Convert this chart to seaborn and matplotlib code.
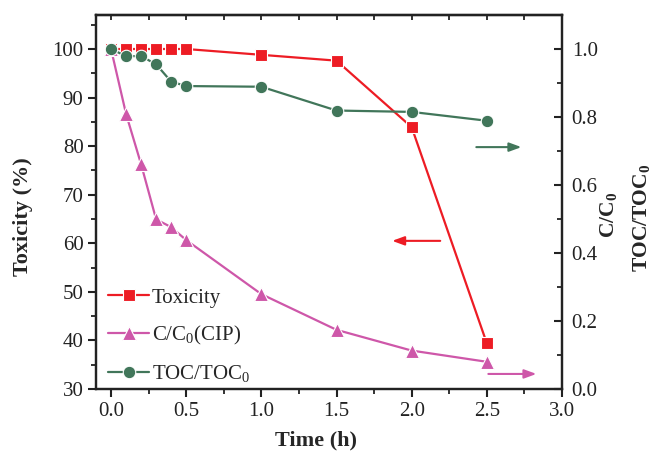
import matplotlib
matplotlib.use("Agg")
import matplotlib.pyplot as plt
from matplotlib.ticker import MultipleLocator
from matplotlib.lines import Line2D
import seaborn as sns
import pandas as pd

time_h = [0.0, 0.1, 0.2, 0.3, 0.4, 0.5, 1.0, 1.5, 2.0, 2.5]
toxicity = [100.0, 100.0, 100.0, 100.0, 100.0, 100.0, 98.8, 97.6, 83.9, 39.4]
c_c0 = [1.0, 0.809, 0.661, 0.499, 0.476, 0.438, 0.279, 0.174, 0.113, 0.080]
toc_toc0 = [1.0, 0.979, 0.979, 0.955, 0.904, 0.891, 0.889, 0.819, 0.815, 0.789]

labels = ["Toxicity", "C/C$_0$(CIP)", "TOC/TOC$_0$"]
colors = ["#ED1C24", "#CE57A9", "#41765A"]
markers = ["s", "^", "o"]

df = pd.DataFrame({"time": time_h, "tox": toxicity, "c": c_c0, "toc": toc_toc0})

sns.set_theme(style="ticks")
plt.rcParams["font.family"] = ["Liberation Serif", "DejaVu Serif"]
plt.rcParams["mathtext.fontset"] = "custom"
plt.rcParams["mathtext.rm"] = "Liberation Serif"
plt.rcParams["mathtext.bf"] = "Liberation Serif:bold"

fig = plt.figure(figsize=(6.57, 4.51), dpi=100)
ax = fig.add_axes([96 / 657, 1 - 389 / 451, (562 - 96) / 657, (389 - 15) / 451])
ax2 = ax.twinx()

mk = dict(markeredgecolor="white", markeredgewidth=0.8, linewidth=1.6)
sns.lineplot(data=df, x="time", y="tox", ax=ax, color=colors[0], marker="s",
             markersize=8, legend=False, **mk)
sns.lineplot(data=df, x="time", y="c", ax=ax2, color=colors[1], marker="^",
             markersize=9.5, legend=False, **mk)
sns.lineplot(data=df, x="time", y="toc", ax=ax2, color=colors[2], marker="o",
             markersize=9, legend=False, **mk)

ax.set_xlim(-0.1, 3.0)
ax.set_ylim(30, 107)
ax2.set_ylim(0, 1.1)

ax.xaxis.set_major_locator(MultipleLocator(0.5))
ax.xaxis.set_minor_locator(MultipleLocator(0.25))
ax.yaxis.set_major_locator(MultipleLocator(10))
ax.yaxis.set_minor_locator(MultipleLocator(5))
ax2.yaxis.set_major_locator(MultipleLocator(0.2))
ax2.yaxis.set_minor_locator(MultipleLocator(0.1))
ax.set_xticks([0.0, 0.5, 1.0, 1.5, 2.0, 2.5, 3.0])
ax.set_xticklabels(["0.0", "0.5", "1.0", "1.5", "2.0", "2.5", "3.0"])
ax.set_yticks([30, 40, 50, 60, 70, 80, 90, 100])
ax2.set_yticks([0.0, 0.2, 0.4, 0.6, 0.8, 1.0])
ax2.set_yticklabels(["0.0", "0.2", "0.4", "0.6", "0.8", "1.0"])

for a, d, p in ((ax, "out", 3), (ax2, "in", 7)):
    for s in a.spines.values():
        s.set_linewidth(1.6)
        s.set_color("#222222")
    a.tick_params(which="major", length=6, width=1.5, direction=d,
                  labelsize=15, colors="#222222", pad=p)
    a.tick_params(which="minor", length=3.5, width=1.3, direction=d,
                  colors="#222222")
    a.grid(False)

sec = ax.secondary_xaxis("top")
sec.xaxis.set_major_locator(MultipleLocator(0.5))
sec.xaxis.set_minor_locator(MultipleLocator(0.25))
sec.tick_params(which="both", direction="in", length=3.5, width=1.3,
                labeltop=False, colors="#222222")
sec.spines["top"].set_linewidth(1.6)

ax.set_xlabel("Time (h)", fontsize=16, fontweight="bold")
ax.set_ylabel("Toxicity (%)", fontsize=16, fontweight="bold")
ax.xaxis.set_label_coords((316 - 96) / 466, -(430 - 389) / 374)
ax.yaxis.set_label_coords(-(96 - 33) / 466, (389 - 217) / 374)
ax2.set_ylabel("")

fig.text(609 / 657, 1 - 238 / 451, r"C/C$_\mathbf{0}$", rotation=90,
         fontsize=15.5, fontweight="bold", ha="center", va="bottom")
fig.text(642 / 657, 1 - 272 / 451, r"TOC/TOC$_\mathbf{0}$", rotation=90,
         fontsize=15.5, fontweight="bold", ha="center", va="bottom")

arrow_specs = [
    ((2.43, 79.8), (2.73, 79.8), colors[2]),
    ((2.19, 60.5), (1.87, 60.5), colors[0]),
    ((2.51, 33.1), (2.83, 33.1), colors[1]),
]
for start, end, col in arrow_specs:
    ax.annotate("", xy=end, xytext=start,
                arrowprops=dict(arrowstyle="-|>,head_length=0.6,head_width=0.22",
                                color=col, lw=1.5, shrinkA=0, shrinkB=0))

handles = [Line2D([], [], color=c, marker=m, markersize=ms, **mk)
           for c, m, ms in zip(colors, markers, [8, 9.5, 9])]
ax.legend(handles, labels, loc="lower left", bbox_to_anchor=(-0.005, -0.028),
          frameon=False, fontsize=15, handlelength=1.95, handletextpad=0.15,
          labelspacing=0.78, borderaxespad=0.3)

fig.savefig("out.png", dpi=100)
